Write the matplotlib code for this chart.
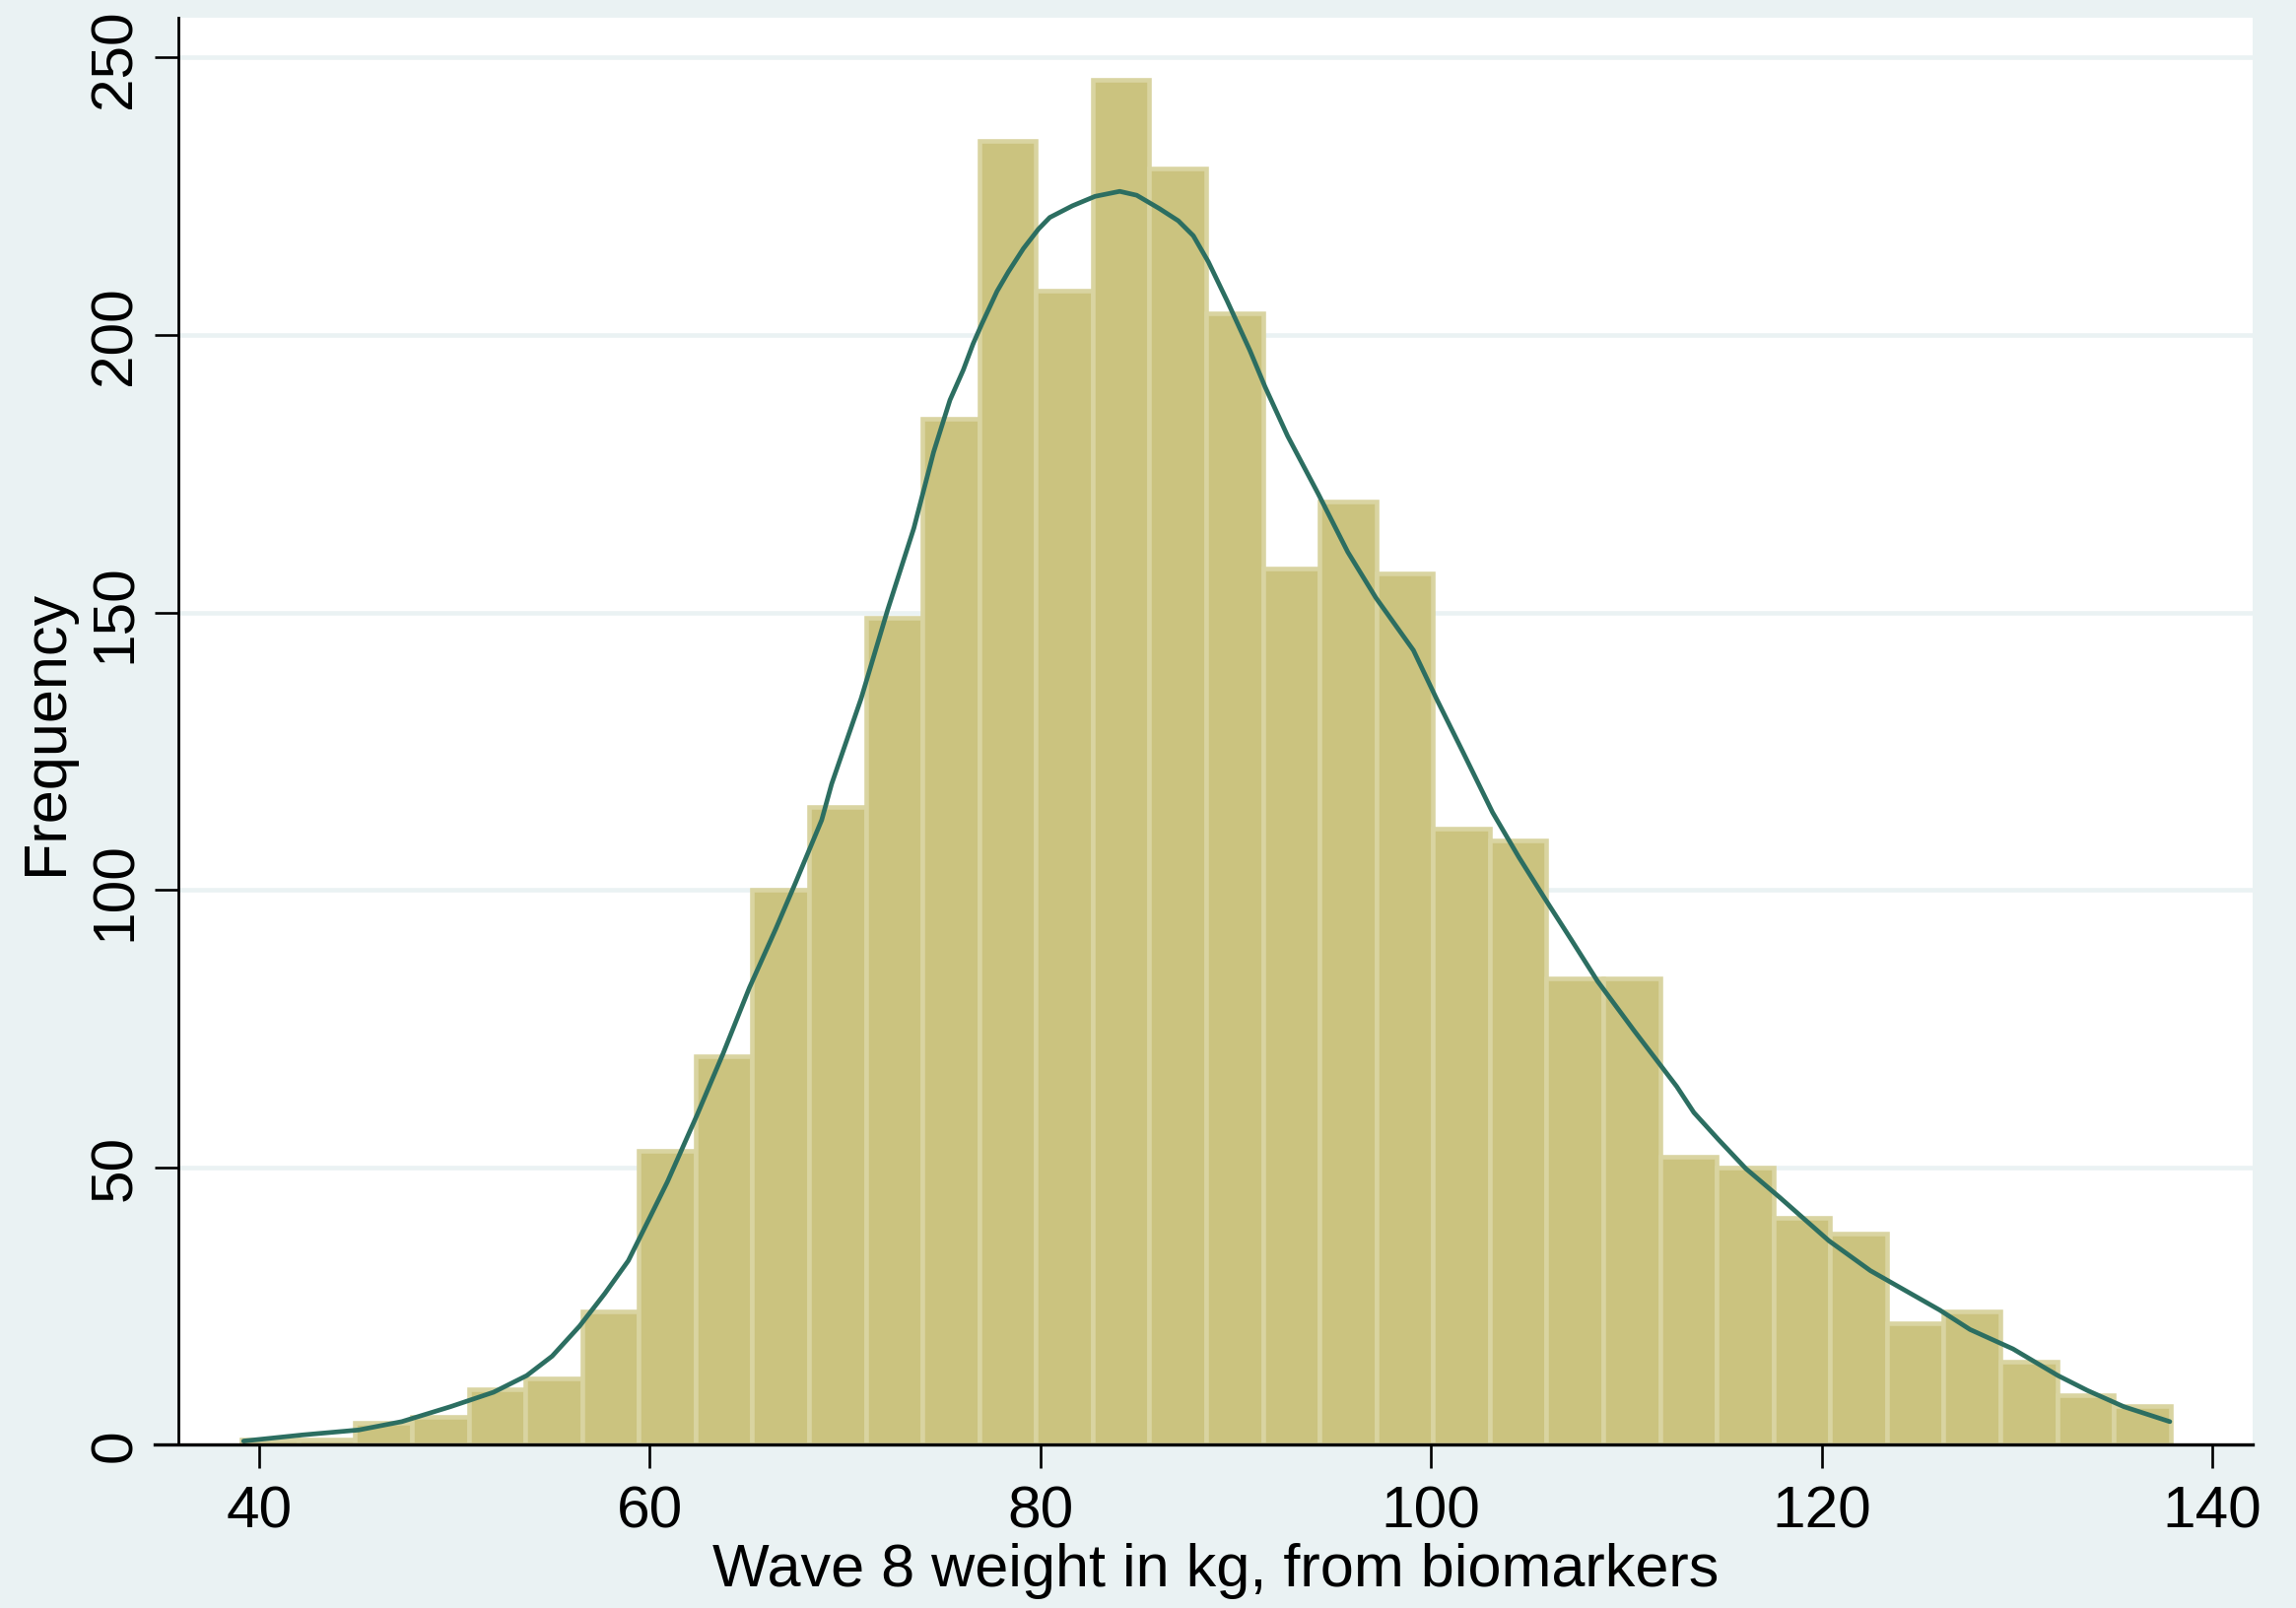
import matplotlib
matplotlib.use("Agg")
import matplotlib.pyplot as plt
from matplotlib.lines import Line2D
import numpy as np

# Histogram of weight (kg): 34 equal-width bins starting at the sample minimum
bin_start = 39.1
bin_width = 2.905
counts = [1, 1, 4, 5, 10, 12, 24, 53, 70, 100, 115, 149, 185, 235, 208, 246,
          230, 204, 158, 170, 157, 111, 109, 84, 84, 52, 50, 41, 38, 22, 24,
          15, 9, 7]

# Kernel density estimate, scaled to frequency units
kde_x = [39.2, 42.2, 45.1, 47.3, 49.8, 52.0, 53.7, 55.0, 56.4, 57.7, 58.9,
         60.1, 60.9, 62.4, 63.75, 65.1, 66.45, 67.46, 68.8, 69.31, 70.82,
         72.17, 73.52, 74.53, 75.37, 76.05, 76.55, 77.0, 77.78, 78.36, 79.13,
         79.9, 80.48, 81.64, 82.8, 84.06, 84.93, 86.09, 87.06, 87.83, 88.6,
         89.57, 90.73, 91.5, 92.66, 94.21, 95.74, 97.17, 99.1, 100.29,
         101.63, 103.15, 104.5, 105.84, 107.19, 108.54, 110.39, 112.58,
         113.46, 114.7, 116.12, 117.89, 120.37, 122.5, 124.4, 126.05, 127.6,
         129.8, 132.1, 133.62, 135.47, 137.83]
kde_y = [0.7, 1.8, 2.7, 4.2, 6.9, 9.5, 12.5, 16.0, 21.4, 27.3, 33.2,
         41.7, 47.4, 59.3, 70.5, 82.4, 93.0, 101.3, 112.6, 119.1, 134.5,
         150.4, 165.2, 178.9, 188.3, 193.7, 198.4, 202.0, 207.9, 211.4, 215.6,
         219.1, 221.2, 223.3, 225.0, 225.9, 225.2, 222.8, 220.6, 217.9, 213.2,
         206.1, 197.2, 190.7, 181.8, 171.5, 160.9, 152.7, 143.2, 134.4,
         124.9, 114.0, 105.9, 98.4, 91.0, 83.5, 74.7, 64.6,
         59.9, 55.1, 49.8, 44.5, 36.8, 31.4, 27.6, 24.3, 20.8,
         17.3, 12.5, 9.8, 6.9, 4.2]

x_ticks = [40, 60, 80, 100, 120, 140]
y_ticks = [0, 50, 100, 150, 200, 250]
x_title = "Wave 8 weight in kg, from biomarkers"
y_title = "Frequency"

BG = "#EAF2F3"
BAR_FILL = "#CBC37F"
BAR_EDGE = "#D9D4A1"
LINE = "#2C6E61"
FONT = ["Liberation Sans", "DejaVu Sans"]

plt.rcParams["font.family"] = FONT

fig = plt.figure(figsize=(23.30, 16.33), dpi=100, facecolor=BG)
ax = fig.add_axes([0.07768, 0.10135, 0.90343, 0.88671])
ax.set_facecolor("white")

# grid lines behind everything
for v in y_ticks[1:]:
    ax.axhline(v, color=BG, lw=3.3, zorder=0)

edges = bin_start + bin_width * np.arange(len(counts) + 1)
ax.bar(edges[:-1], counts, width=bin_width, align="edge",
       color=BAR_FILL, edgecolor=BAR_EDGE, linewidth=3.3, zorder=2)

ax.plot(kde_x, kde_y, color=LINE, lw=3.4, zorder=3,
        solid_joinstyle="round", solid_capstyle="round")

ax.set_xlim(35.86, 142.07)
ax.set_ylim(0, 257.1)

ax.set_xticks(x_ticks)
ax.set_yticks(y_ticks)
ax.set_xticklabels([str(t) for t in x_ticks])
ax.set_yticklabels([str(t) for t in y_ticks], rotation=90, va="center")

ax.tick_params(axis="both", direction="out", length=17, width=1.9,
               labelsize=43.5, color="black")
ax.tick_params(axis="x", pad=12)
ax.tick_params(axis="y", pad=9)

for side in ["top", "right", "bottom"]:
    ax.spines[side].set_visible(False)
ax.spines["left"].set_linewidth(2.0)
ax.spines["left"].set_zorder(5)

# x axis line running slightly past the y axis
ax.add_line(Line2D([-0.0114, 1.0], [0, 0], transform=ax.transAxes,
                   color="black", lw=2.4, clip_on=False, zorder=6))

ax.set_xlabel(x_title, fontsize=44, labelpad=2)
ax.set_ylabel(y_title, fontsize=44, labelpad=10)

fig.savefig("out.png", dpi=100, facecolor=BG)
